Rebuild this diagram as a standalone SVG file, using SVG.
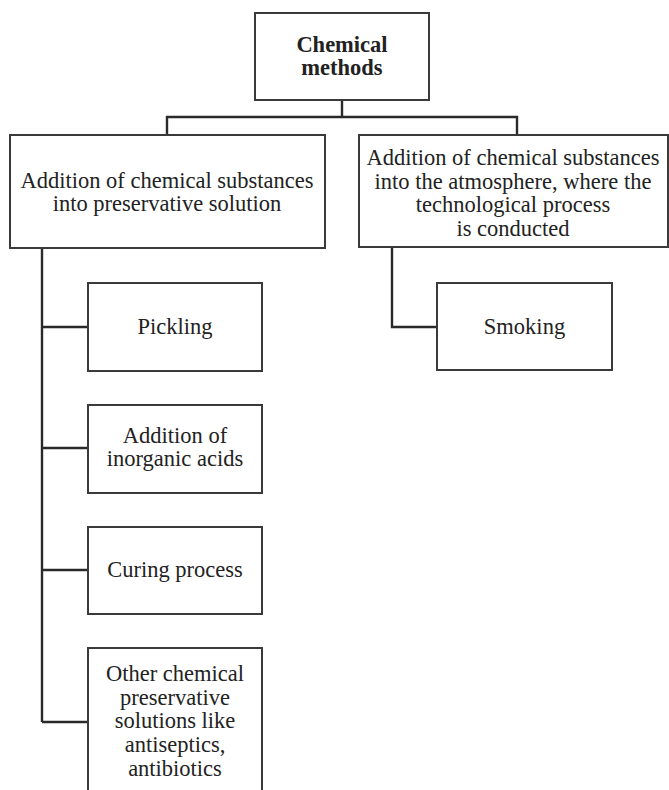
<svg xmlns="http://www.w3.org/2000/svg" width="669" height="790" viewBox="0 0 669 790">
<style>
.box{fill:#fff;stroke:#3a3a3a;stroke-width:2}
.t{font-family:"Liberation Serif","Times New Roman",serif;font-size:22.5px;fill:#222;text-anchor:middle}
.b{font-weight:bold}
.c{fill:none;stroke:#2a2a2a;stroke-width:2.4}
</style>
<rect width="669" height="790" fill="#fff"/>
<g id="connectors">
<path class="c" d="M342 100V117M167 135V117H517V135"/>
<path class="c" d="M42 248V722M42 327H88M42 448H88M42 570H88M42 722H88"/>
<path class="c" d="M392 247V327H437"/>
</g>
<g id="n-chemical-methods">
<rect class="box" x="255" y="13" width="174" height="87"/>
<text class="t b" x="342" y="52">Chemical</text>
<text class="t b" x="342" y="75">methods</text>
</g>
<g id="n-preservative-solution">
<rect class="box" x="10" y="135" width="315" height="113"/>
<text class="t" x="167" y="188">Addition of chemical substances</text>
<text class="t" x="167" y="211">into preservative solution</text>
</g>
<g id="n-atmosphere">
<rect class="box" x="359" y="135" width="309" height="112"/>
<text class="t" x="513" y="165">Addition of chemical substances</text>
<text class="t" x="513" y="188.5">into the atmosphere, where the</text>
<text class="t" x="513" y="212">technological process</text>
<text class="t" x="513" y="235.5">is conducted</text>
</g>
<g id="n-pickling">
<rect class="box" x="88" y="283" width="174" height="88"/>
<text class="t" x="175" y="334">Pickling</text>
</g>
<g id="n-inorganic-acids">
<rect class="box" x="88" y="405" width="174" height="88"/>
<text class="t" x="175" y="443">Addition of</text>
<text class="t" x="175" y="466">inorganic acids</text>
</g>
<g id="n-curing">
<rect class="box" x="88" y="527" width="174" height="87"/>
<text class="t" x="175" y="577">Curing process</text>
</g>
<g id="n-other">
<rect class="box" x="88" y="648" width="174" height="160"/>
<text class="t" x="175" y="681">Other chemical</text>
<text class="t" x="175" y="704.5">preservative</text>
<text class="t" x="175" y="728">solutions like</text>
<text class="t" x="175" y="752">antiseptics,</text>
<text class="t" x="175" y="776">antibiotics</text>
</g>
<g id="n-smoking">
<rect class="box" x="437" y="283" width="175" height="87"/>
<text class="t" x="524.5" y="334">Smoking</text>
</g>
</svg>
